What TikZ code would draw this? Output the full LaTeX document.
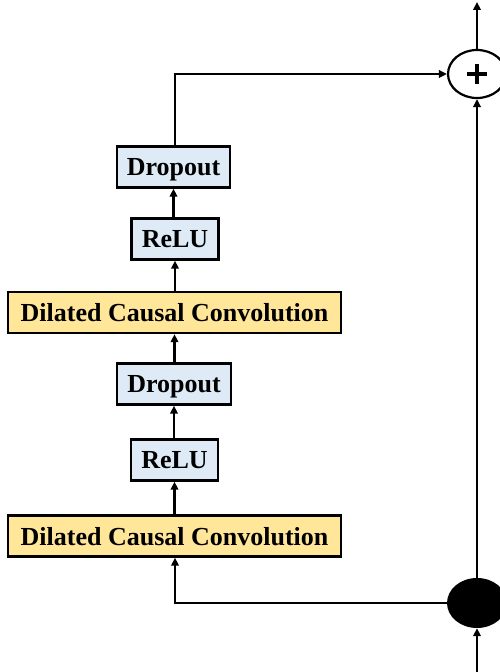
\documentclass[tikz,border=0pt]{standalone}
\usepackage{fontspec}
\setmainfont{Liberation Serif}
\usetikzlibrary{arrows.meta,shapes.geometric}
\definecolor{convyellow}{HTML}{FFE699}
\definecolor{actblue}{HTML}{DEEBF7}
\begin{document}
\begin{tikzpicture}[x=1pt,y=1pt,
  blk/.style={draw=black,line width=2.4pt,inner sep=0pt,font=\bfseries\fontsize{26}{30}\selectfont,text depth=0pt},
  conv/.style={blk,fill=convyellow,minimum width=333pt,minimum height=41pt},
  act/.style={blk,fill=actblue,minimum height=41pt},
  conn/.style={line width=2.1pt,-{Triangle[length=8pt,width=7.5pt]}},
  plusbar/.style={line width=4pt}]
\useasboundingbox (0,0) rectangle (499,672);
\node[conv] (dcc2) at (174.5,136) {Dilated Causal Convolution};
\node[act,minimum width=87pt] (relu2) at (174.5,212) {ReLU};
\node[act,minimum width=114pt] (drop2) at (174,288) {Dropout};
\node[conv] (dcc1) at (174.5,359.5) {Dilated Causal Convolution};
\node[act,minimum width=87pt] (relu1) at (175,433) {ReLU};
\node[act,minimum width=113pt] (drop1) at (173.5,505) {Dropout};
\node[ellipse,draw=black,line width=2.2pt,fill=white,minimum width=58pt,minimum height=48pt,inner sep=0pt] (plus) at (477,598) {};
\draw[plusbar] ([xshift=-10pt]plus.center) -- ([xshift=10pt]plus.center);
\draw[plusbar] ([yshift=-10pt]plus.center) -- ([yshift=10pt]plus.center);
\node[ellipse,fill=black,minimum width=60pt,minimum height=50pt,inner sep=0pt] (split) at (477,69) {};
\coordinate (in) at (477,0);
\coordinate (out) at (477,670);
\coordinate (c1) at (175,69);
\coordinate (c2) at (175,598);
\draw[conn] (in) -- (split);
\draw[conn] (split) -- (plus);
\draw[conn] (plus) -- (out);
\draw[conn] (split.west) -- (c1) -- (dcc2.south -| c1);
\draw[conn] (dcc2.north -| relu2) -- (relu2);
\draw[conn] (relu2.north -| drop2) -- (drop2);
\draw[conn] (drop2.north -| dcc1) -- (dcc1);
\draw[conn] (dcc1.north -| relu1) -- (relu1);
\draw[conn] (relu1.north -| drop1) -- (drop1);
\draw[conn] (drop1.north -| c2) -- (c2) -- (plus.west);
\end{tikzpicture}
\end{document}
